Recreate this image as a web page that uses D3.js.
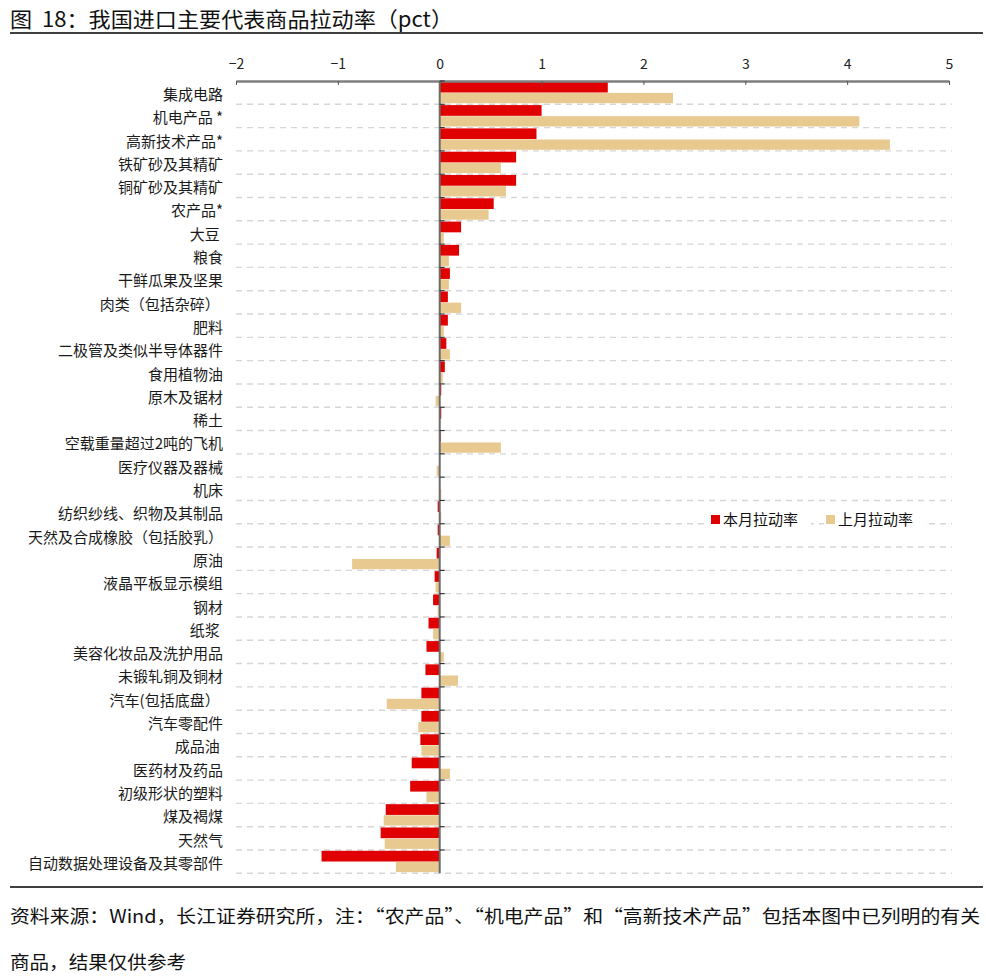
<!DOCTYPE html>
<html>
<head>
<meta charset="utf-8">
<script src="https://cdn.jsdelivr.net/npm/d3@7"></script>
<style>
  body { margin: 0; background: #fff; }
  svg text { font-family: "Noto Sans CJK SC", "Noto Sans", sans-serif; white-space: pre; }
</style>
</head>
<body>
<div id="chart"></div>
<script>
const categories = [
  "集成电路", "机电产品 *", "高新技术产品*", "铁矿砂及其精矿", "铜矿砂及其精矿", "农产品*",
  "大豆 ", "粮食", "干鲜瓜果及坚果", "肉类（包括杂碎） ", "肥料", "二极管及类似半导体器件",
  "食用植物油", "原木及锯材", "稀土", "空载重量超过2吨的飞机", "医疗仪器及器械", "机床",
  "纺织纱线、织物及其制品", "天然及合成橡胶（包括胶乳）", "原油", "液晶平板显示模组", "钢材", "纸浆 ",
  "美容化妆品及洗护用品", "未锻轧铜及铜材", "汽车(包括底盘） ", "汽车零配件", "成品油 ", "医药材及药品",
  "初级形状的塑料", "煤及褐煤", "天然气", "自动数据处理设备及其零部件"
]
// 本月拉动率
const thisMonth = [
  1.65, 1.00, 0.95, 0.75, 0.75, 0.53,
  0.21, 0.19, 0.10, 0.08, 0.08, 0.065,
  0.05, 0.015, 0.015, 0.01, -0.005, -0.005,
  -0.02, -0.02, -0.03, -0.05, -0.065, -0.11,
  -0.13, -0.14, -0.18, -0.18, -0.19, -0.275,
  -0.29, -0.53, -0.58, -1.16
]
// 上月拉动率
const lastMonth = [
  2.29, 4.12, 4.42, 0.60, 0.65, 0.48,
  0.04, 0.09, 0.09, 0.21, 0.04, 0.10,
  0.03, -0.04, 0.005, 0.60, -0.03, 0.015,
  0.015, 0.10, -0.86, -0.04, -0.02, -0.065,
  0.04, 0.18, -0.52, -0.21, -0.18, 0.10,
  -0.13, -0.55, -0.54, -0.43
]
const xTicks = [-2, -1, 0, 1, 2, 3, 4, 5]
const seriesNames = ["本月拉动率", "上月拉动率"]

const W = 986, H = 978
const red = "#e00000", beige = "#e8c990"

const svg = d3.select("#chart").append("svg")
  .attr("width", W).attr("height", H)

// title
svg.append("text")
  .attr("x", 10).attr("y", 27)
  .attr("font-size", "21px")
  .attr("fill", "#111")
  .attr("textLength", 443)
  .attr("lengthAdjust", "spacingAndGlyphs")
  .text("图  18：我国进口主要代表商品拉动率（pct）")

svg.append("line")
  .attr("x1", 10).attr("x2", 983).attr("y1", 33).attr("y2", 33)
  .attr("stroke", "#000").attr("stroke-width", 1.3)

const x = d3.scaleLinear().domain([-2, 5]).range([236, 949])
const y = d3.scaleBand().domain(categories).range([81, 873.3]).paddingInner(0).paddingOuter(0)
const bh = y.bandwidth()

// dashed gridlines at band bottoms
svg.append("g")
  .selectAll("line")
  .data(categories)
  .enter().append("line")
  .attr("x1", 236).attr("x2", 952)
  .attr("y1", d => y(d) + bh).attr("y2", d => y(d) + bh)
  .attr("stroke", "#d6d6d6")
  .attr("stroke-width", 1.4)
  .attr("stroke-dasharray", "6,5")

// bars
const bars = svg.append("g")
bars.selectAll(".cur")
  .data(categories)
  .enter().append("rect")
  .attr("class", "cur")
  .attr("x", (d, i) => x(Math.min(0, thisMonth[i])))
  .attr("y", d => y(d) + 0.8)
  .attr("width", (d, i) => Math.abs(x(thisMonth[i]) - x(0)))
  .attr("height", bh * 0.46)
  .attr("fill", red)

bars.selectAll(".prev")
  .data(categories)
  .enter().append("rect")
  .attr("class", "prev")
  .attr("x", (d, i) => x(Math.min(0, lastMonth[i])))
  .attr("y", d => y(d) + 0.8 + bh * 0.46 + 0.4)
  .attr("width", (d, i) => Math.abs(x(lastMonth[i]) - x(0)))
  .attr("height", bh * 0.44)
  .attr("fill", beige)

// top axis
const xAxis = svg.append("g")
  .attr("transform", "translate(0,81)")
  .call(d3.axisTop(x).tickValues(xTicks).tickFormat(d3.format("d"))
    .tickSize(-4).tickPadding(12).tickSizeOuter(0))
xAxis.select(".domain").attr("stroke", "#7f7f7f").attr("stroke-width", 2.5)
xAxis.selectAll(".tick line").attr("stroke", "#555")
xAxis.selectAll(".tick text")
  .attr("font-size", "14px").attr("fill", "#222")
  .attr("font-family", "Liberation Sans, Arial, sans-serif")

// zero axis with category ticks
const yAxis = svg.append("g")
  .attr("transform", "translate(" + x(0) + ",0)")
yAxis.append("line")
  .attr("x1", 0).attr("x2", 0).attr("y1", 81).attr("y2", 873.3)
  .attr("stroke", "#6b6b6b").attr("stroke-width", 2)
yAxis.selectAll(".tk")
  .data(categories)
  .enter().append("line")
  .attr("class", "tk")
  .attr("x1", 0).attr("x2", 5)
  .attr("y1", d => y(d)).attr("y2", d => y(d))
  .attr("stroke", "#333").attr("stroke-width", 1.2)

// category labels
svg.append("g")
  .selectAll("text")
  .data(categories)
  .enter().append("text")
  .attr("x", 223)
  .attr("y", d => y(d) + bh / 2 + 2)
  .attr("dy", "0.35em")
  .attr("text-anchor", "end")
  .attr("font-size", "15px")
  .attr("fill", "#1a1a1a")
  .text(d => d)

// legend
const legend = svg.append("g")
const legendItems = [
  { name: seriesNames[0], color: red, x: 711 },
  { name: seriesNames[1], color: beige, x: 826 }
]
legendItems.forEach(item => {
  legend.append("rect")
    .attr("x", item.x - 2).attr("y", 510).attr("width", 102).attr("height", 20)
    .attr("fill", "#fff")
  legend.append("rect")
    .attr("x", item.x).attr("y", 515).attr("width", 9).attr("height", 9)
    .attr("fill", item.color)
  legend.append("text")
    .attr("x", item.x + 12).attr("y", 520).attr("dy", "0.35em")
    .attr("font-size", "15px").attr("fill", "#111")
    .text(item.name)
})

// footer
svg.append("line")
  .attr("x1", 10).attr("x2", 983).attr("y1", 887).attr("y2", 887)
  .attr("stroke", "#000").attr("stroke-width", 1.3)

svg.append("text")
  .attr("x", 10).attr("y", 923)
  .attr("font-size", "18px").attr("fill", "#111")
  .attr("textLength", 970)
  .attr("lengthAdjust", "spacingAndGlyphs")
  .text("资料来源：Wind，长江证券研究所，注：“农产品”、“机电产品”和“高新技术产品”包括本图中已列明的有关")
svg.append("text")
  .attr("x", 10).attr("y", 969)
  .attr("font-size", "18px").attr("fill", "#111")
  .attr("textLength", 176)
  .attr("lengthAdjust", "spacingAndGlyphs")
  .text("商品，结果仅供参考")
</script>
</body>
</html>
